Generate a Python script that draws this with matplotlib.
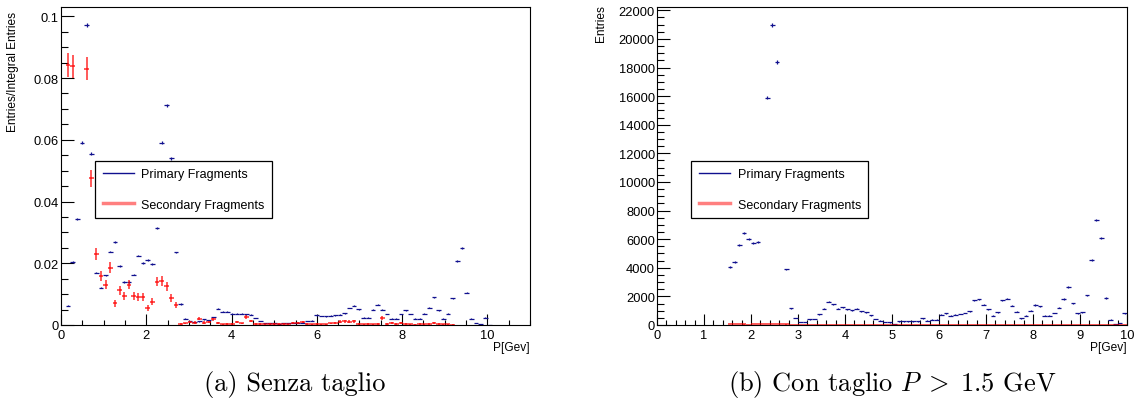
import numpy as np
import matplotlib.pyplot as plt
from matplotlib.lines import Line2D
from matplotlib.ticker import MultipleLocator, FormatStrFormatter

plt.rcParams['font.family'] = ['Liberation Sans', 'DejaVu Sans']
plt.rcParams['mathtext.fontset'] = 'cm'

nan = np.nan

# (a) no cut: 100 bins on 0-11 GeV, entries / integral
edges_a = np.linspace(0, 11, 101)
prim_a = [nan, 0.0062, 0.0205, 0.0343, 0.0590, 0.0972, 0.0555, 0.0170, 0.0121, 0.0161,
          0.0238, 0.0270, 0.0190, 0.0140, 0.0140, 0.0163, 0.0225, 0.0200, 0.0210, 0.0197,
          0.0315, 0.0590, 0.0712, 0.0540, 0.0235, 0.0068, 0.0021, 0.0012, 0.0010, 0.0012,
          0.0018, 0.0016, 0.0026, 0.0053, 0.0043, 0.0043, 0.0037, 0.0037, 0.0037, 0.0035,
          0.0034, 0.0022, 0.0013, 0.0006, 0.0005, 0.0005, 0.0004, 0.0006, 0.0006, 0.0006,
          0.0008, 0.0008, 0.0013, 0.0014, 0.0031, 0.0029, 0.0028, 0.0030, 0.0031, 0.0033,
          0.0038, 0.0055, 0.0062, 0.0051, 0.0024, 0.0024, 0.0049, 0.0066, 0.0049, 0.0036,
          0.0021, 0.0021, 0.0036, 0.0048, 0.0036, 0.0021, 0.0021, 0.0037, 0.0056, 0.0090,
          0.0047, 0.0021, 0.0037, 0.0087, 0.0207, 0.0248, 0.0105, 0.0021, 0.0006, 0.0003,
          0.0024, 0.0001, nan, nan, nan, nan, nan, nan, nan, nan]
sec_a = [nan, 0.0842, 0.0838, nan, nan, 0.0830, 0.0475, 0.0230, 0.0160, 0.0130,
         0.0185, 0.0070, 0.0112, 0.0095, 0.0130, 0.0095, 0.0090, 0.0090, 0.0055, 0.0075,
         0.0140, 0.0143, 0.0125, 0.0088, 0.0065, 0.0003, 0.0005, 0.0010, 0.0008, 0.0021,
         0.0008, 0.0010, 0.0018, 0.0006, 0.0002, 0.0003, 0.0004, 0.0010, 0.0005, 0.0026,
         0.0013, 0.0004, 0.0003, 0.0002, 0.0003, 0.0003, 0.0003, 0.0004, 0.0002, 0.0007,
         0.0006, 0.0010, 0.0004, 0.0002, 0.0003, 0.0002, 0.0002, 0.0005, 0.0006, 0.0011,
         0.0012, 0.0011, 0.0012, 0.0003, 0.0002, 0.0003, 0.0002, 0.0003, 0.0024, 0.0003,
         0.0006, 0.0004, 0.0007, 0.0004, 0.0002, 0.0001, 0.0003, 0.0002, 0.0003, 0.0006,
         0.0004, 0.0002, 0.0002, 0.0001, nan, nan, nan, nan, nan, nan,
         nan, nan, nan, nan, nan, nan, nan, nan, nan, nan]
n_prim_a = 250000   # total entries used for the normalisation
n_sec_a = 6000

# (b) cut P > 1.5 GeV: 100 bins on 0-10 GeV, raw entries
edges_b = np.linspace(0, 10, 101)
prim_b = [nan] * 15 + [
    4050, 4400, 5600, 6450, 6000, 5750, 5800, nan, 15900, 21000,
    18400, nan, 3880, 1180, 500, 200, 220, 400, 420, 740,
    1140, 1620, 1460, 1140, 1250, 1090, 1020, 1130, 950, 900,
    680, 420, 310, 190, 180, 70, 250, 250, 260, 260,
    260, 460, 300, 370, 370, 720, 810, 650, 720, 770,
    840, 950, 1740, 1790, 1420, 1110, 650, 880, 1740, 1840,
    1350, 930, 470, 650, 1000, 1400, 1300, 650, 650, 840,
    1190, 1820, 2640, 1530, 810, 880, 2070, 4540, 7330, 6070,
    1890, 370, 70, 160, 810]
sec_b = [nan] * 15 + [
    60, 55, 50, 40, 20, 45, 60, 70, 65, 70,
    60, 55, 40] + [15] * 72

blue = '#10108f'
red = (1.0, 0.0, 0.0, 0.7)


def draw_hist(ax, edges, vals, errs, color, lw):
    centers = 0.5 * (edges[:-1] + edges[1:])
    half = 0.5 * (edges[1] - edges[0])
    ax.errorbar(centers, vals, xerr=half, yerr=errs, fmt='none',
                ecolor=color, elinewidth=lw, capsize=0)


def style_axes(ax, xmax, ymax, xmaj, xmin_, ymaj, ymin_, yfmt):
    ax.set_xlim(0, xmax)
    ax.set_ylim(0, ymax)
    ax.xaxis.set_major_locator(MultipleLocator(xmaj))
    ax.xaxis.set_minor_locator(MultipleLocator(xmin_))
    ax.yaxis.set_major_locator(MultipleLocator(ymaj))
    ax.yaxis.set_minor_locator(MultipleLocator(ymin_))
    ax.yaxis.set_major_formatter(FormatStrFormatter(yfmt))
    ax.tick_params(which='both', direction='in', labelsize=9.3, width=0.8)
    ax.tick_params(axis='x', which='major', length=8, pad=3)
    ax.tick_params(axis='x', which='minor', length=3.6)
    ax.tick_params(axis='y', which='major', length=9.4, pad=1.5)
    ax.tick_params(axis='y', which='minor', length=4.8)
    for s in ax.spines.values():
        s.set_linewidth(0.8)
    ax.set_xlabel('P[Gev]', loc='right', fontsize=8.6, va='top')
    ax.xaxis.set_label_coords(1.0, -0.05)
    handles = [Line2D([], [], color=blue, lw=1.0),
               Line2D([], [], color=(1.0, 0.0, 0.0, 0.5), lw=2.5)]
    leg = ax.legend(handles, ['Primary Fragments', 'Secondary Fragments'],
                    loc='upper left', bbox_to_anchor=(0.073, 0.327, 0.376, 0.189),
                    mode='expand', fontsize=9, fancybox=False, frameon=True,
                    edgecolor='black', framealpha=1, borderpad=0.6,
                    labelspacing=1.45, handlelength=2.5, handletextpad=0.6,
                    borderaxespad=0)
    leg.get_frame().set_linewidth(0.9)


fig = plt.figure(figsize=(11.38, 4.10), dpi=100)
ax1 = fig.add_axes([61 / 1138, 84 / 410, 469 / 1138, 318 / 410])
ax2 = fig.add_axes([657 / 1138, 84 / 410, 470 / 1138, 318 / 410])

pa = np.array(prim_a, dtype=float)
sa = np.array(sec_a, dtype=float)
draw_hist(ax1, edges_a, pa, np.sqrt(pa * n_prim_a) / n_prim_a, blue, 0.9)
draw_hist(ax1, edges_a, sa, np.sqrt(sa * n_sec_a) / n_sec_a, red, 1.3)
style_axes(ax1, 11, 0.103, 2, 0.5, 0.02, 0.005, '%g')
ax1.set_ylabel('Entries/Integral Entries', loc='top', fontsize=8.6)
ax1.yaxis.set_label_coords(-0.089, 0.987)

pb = np.array(prim_b, dtype=float)
sb = np.array(sec_b, dtype=float)
draw_hist(ax2, edges_b, pb, np.sqrt(pb), blue, 0.9)
draw_hist(ax2, edges_b, sb, np.sqrt(sb), red, 1.3)
style_axes(ax2, 10, 22230, 1, 0.2, 2000, 500, '%d')
ax2.set_ylabel('Entries', loc='top', fontsize=8.6)
ax2.yaxis.set_label_coords(-0.106, 1.01)

fig.text(295 / 1138, 0.062, '(a) Senza taglio', family='cmr10', fontsize=19,
         ha='center', va='center')
fig.text(892 / 1138, 0.062, r'(b) Con taglio $P\;>\;1.5$ GeV', family='cmr10',
         fontsize=19, ha='center', va='center')

fig.savefig('out.png', dpi=100)
